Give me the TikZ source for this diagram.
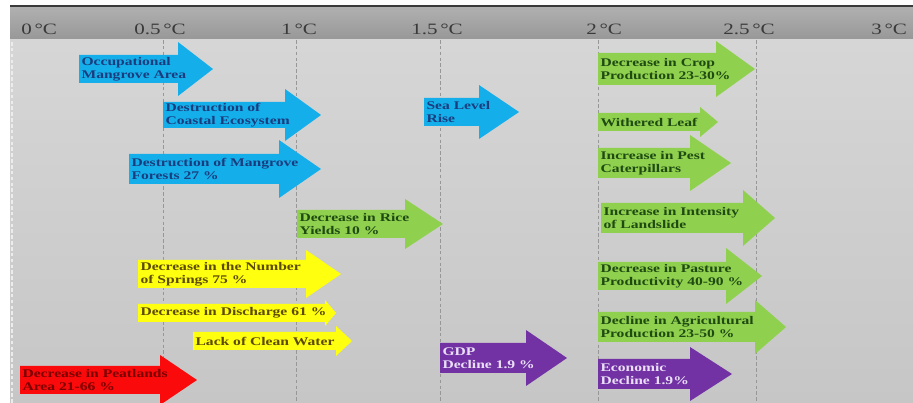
\documentclass[tikz,border=0pt]{standalone}
\usepackage{fontspec}
\setmainfont{Liberation Serif}[FakeStretch=1.33]
\usetikzlibrary{calc}
\definecolor{ccBlue}{HTML}{14AFEA}
\definecolor{ccBlueInk}{HTML}{1B3C7E}
\definecolor{ccGreen}{HTML}{8FD04E}
\definecolor{ccGreenInk}{HTML}{1F4A12}
\definecolor{ccYellow}{HTML}{FFFF10}
\definecolor{ccYellowInk}{HTML}{5C4A00}
\definecolor{ccRed}{HTML}{FA0A0A}
\definecolor{ccRedInk}{HTML}{7A0000}
\definecolor{ccPurple}{HTML}{7232A4}
\definecolor{ccPurpleInk}{HTML}{EADFF7}
\definecolor{ccBarTop}{HTML}{B0B0B0}
\definecolor{ccBarBot}{HTML}{989898}
\definecolor{ccFieldTop}{HTML}{D6D6D6}
\definecolor{ccFieldBot}{HTML}{C6C6C6}
\definecolor{ccRule}{HTML}{3A3A3A}
\definecolor{ccGrid}{HTML}{979797}
\tikzset{
  impactfont/.style={font=\fontsize{10}{11.5}\selectfont\bfseries, align=left, inner sep=2pt},
  blueimp/.style={fill=ccBlue},
  blueimp text/.style={impactfont, text=ccBlueInk},
  greenimp/.style={fill=ccGreen},
  greenimp text/.style={impactfont, text=ccGreenInk},
  yellowimp/.style={fill=ccYellow},
  yellowimp text/.style={impactfont, text=ccYellowInk},
  redimp/.style={fill=ccRed},
  redimp text/.style={impactfont, text=ccRedInk},
  purpleimp/.style={fill=ccPurple},
  purpleimp text/.style={impactfont, text=ccPurpleInk},
  templabel/.style={font=\fontsize{13.5}{15}\selectfont, text=ccRule, inner sep=1pt, anchor=west},
  gridline/.style={ccGrid, densely dashed, line width=0.6pt}
}
% #1 style, #2 name, #3 left, #4 head start, #5 tip, #6 centre y, #7 body half, #8 head half, #9 text
\newcommand{\impactarrow}[9]{%
  \fill[#1] (#3,#6-#7) -- (#4,#6-#7) -- (#4,#6-#8) -- (#5,#6)
    -- (#4,#6+#8) -- (#4,#6+#7) -- (#3,#6+#7) -- cycle;
  \node[#1 text, anchor=west] (#2) at (#3,#6) {#9};
}
\begin{document}
\begin{tikzpicture}[x=0.03cm, y=-0.03cm]
  \useasboundingbox (0,0) rectangle (913,403);
  \fill[white] (0,0) rectangle (913,403);
  % header band and field
  \shade[top color=ccFieldTop, bottom color=ccFieldBot] (10,40) rectangle (913,403);
  \shade[top color=ccBarTop, bottom color=ccBarBot] (10,7) rectangle (913,39);
  \fill[ccRule] (10,5) rectangle (913,7.5);
  \draw[white!85!gray, densely dashed, line width=1pt] (12,42) -- (12,403);
  \foreach \x in {163,296,440,598,756}
    \draw[gridline] (\x,40) -- (\x,403);
  \foreach \x/\lab [count=\i] in {20/0, 133/0.5, 280/1, 410/1.5, 585/2, 722/2.5, 870/3}
    \node[templabel] (temp\i) at (\x,29) {\lab\,\textdegree C};

  % blue: coastal impacts
  \impactarrow{blueimp}{occup}{79}{178}{213}{69}{14}{27}{Occupational\\Mangrove Area}
  \impactarrow{blueimp}{coastal}{163}{285}{321}{115}{13}{26}{Destruction of\\Coastal Ecosystem}
  \impactarrow{blueimp}{mangrove}{129}{279}{321}{169}{15}{29}{Destruction of Mangrove\\Forests 27 \%}
  \impactarrow{blueimp}{sealevel}{424}{479}{519}{112}{14}{27}{Sea Level\\Rise}

  % yellow: water
  \impactarrow{yellowimp}{springs}{138}{306}{341}{274}{14}{24}{Decrease in the Number\\of Springs 75 \%}
  \impactarrow{yellowimp}{discharge}{138}{325}{336}{313}{9}{13}{Decrease in Discharge 61 \%}
  \impactarrow{yellowimp}{water}{193}{336}{352}{341}{9}{15}{Lack of Clean Water}

  % red
  \impactarrow{redimp}{peat}{20}{160}{197}{380}{14}{25}{Decrease in Peatlands\\Area 21-66 \%}

  % purple: economy
  \impactarrow{purpleimp}{gdp}{440}{526}{567}{358}{15}{28}{GDP\\Decline 1.9 \%}
  \impactarrow{purpleimp}{economic}{598}{690}{732}{374}{15}{27}{Economic\\Decline 1.9\%}

  % green: agriculture
  \impactarrow{greenimp}{rice}{297}{405}{443}{224}{14}{25}{Decrease in Rice\\Yields 10 \%}
  \impactarrow{greenimp}{crop}{598}{716}{755}{69}{16}{28}{Decrease in Crop\\Production 23-30\%}
  \impactarrow{greenimp}{leaf}{598}{700}{718}{122}{9}{15}{Withered Leaf}
  \impactarrow{greenimp}{pest}{598}{690}{731}{163}{15}{28}{Increase in Pest\\Caterpillars}
  \impactarrow{greenimp}{landslide}{601}{743}{775}{218}{15}{28}{Increase in Intensity\\of Landslide}
  \impactarrow{greenimp}{pasture}{598}{726}{762}{276}{14}{28}{Decrease in Pasture\\Productivity 40-90 \%}
  \impactarrow{greenimp}{agri}{598}{755}{786}{327}{15}{27}{Decline in Agricultural\\Production 23-50 \%}
\end{tikzpicture}
\end{document}
